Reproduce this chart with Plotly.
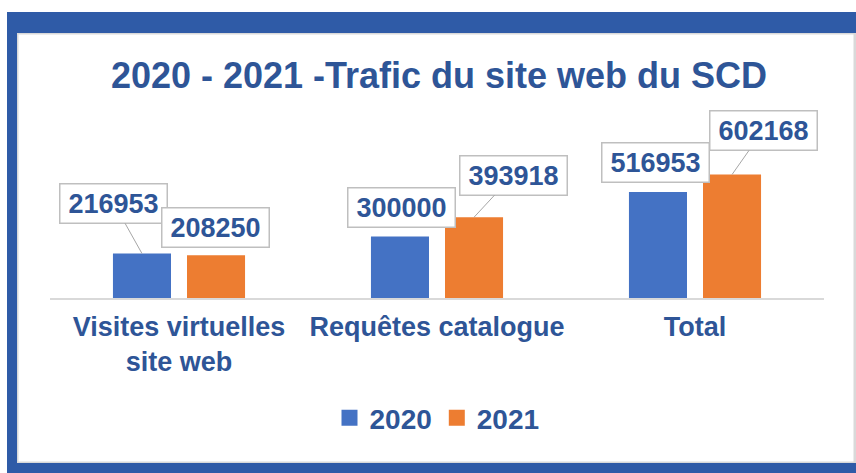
import plotly.graph_objects as go

# ---- data ----
categories = ["Visites virtuelles<br>site web", "Requêtes catalogue", "Total"]
values_2020 = [216953, 300000, 516953]
values_2021 = [208250, 393918, 602168]
series_names = ["2020", "2021"]

# ---- styling / layout config ----
W, H = 856, 473
L, R, T, B = 50, 824, 134, 298          # plot area in pixels
Y_MAX = 800000
BARGAP = 0.426
BARGROUPGAP = 0.216
C_BLUE = "#4472C4"
C_ORANGE = "#ED7D31"
C_TEXT = "#2E5597"
C_FRAME = "#2F5BA7"
FONT = "Liberation Sans, Arial, sans-serif"

# label box offsets (pixels, box centre relative to bar top) and leader visibility
label_offsets_2020 = [(-28, -50, True), (2, -29, False), (-2, -30, False)]
label_offsets_2021 = [(-1, -28, False), (39, -42, True), (31, -44, True)]


def px2x(px):
    return (px - L) / (R - L)


def py2y(py):
    return (B - py) / (B - T)


fig = go.Figure()
fig.add_trace(go.Bar(x=categories, y=values_2020, name=series_names[0],
                     marker=dict(color=C_BLUE, line=dict(width=0)), showlegend=False))
fig.add_trace(go.Bar(x=categories, y=values_2021, name=series_names[1],
                     marker=dict(color=C_ORANGE, line=dict(width=0)), showlegend=False))

# legend entries with larger square symbols
for name, col in zip(series_names, [C_BLUE, C_ORANGE]):
    fig.add_trace(go.Scatter(x=[None], y=[None], mode="markers", name=name,
                             marker=dict(symbol="square", size=16, color=col)))

# data labels with leader lines
slot_half = (1 - BARGAP) / 4
annotations = []
for vals, offs, sign in [(values_2020, label_offsets_2020, -1), (values_2021, label_offsets_2021, 1)]:
    for i, (v, (ax, ay, lead)) in enumerate(zip(vals, offs)):
        annotations.append(dict(
            x=i + sign * slot_half, y=v, xref="x", yref="y",
            text=f"{v}", showarrow=True, arrowhead=0, arrowwidth=1,
            arrowcolor="#A6A6A6" if lead else "rgba(0,0,0,0)",
            ax=ax, ay=ay,
            font=dict(family=FONT, size=27, color=C_TEXT, weight="bold"),
            bgcolor="white", bordercolor="#BFBFBF", borderwidth=1.5, borderpad=3,
            width=100, height=32,
        ))


def prect(x0, y0, x1, y1, **kw):
    return dict(type="rect", xref="paper", yref="paper",
                x0=px2x(x0), x1=px2x(x1), y0=py2y(y0), y1=py2y(y1),
                layer="below", **kw)


shapes = [
    # soft inner shadow line of the frame
    prect(17, 33, 855, 463, fillcolor="rgba(0,0,0,0)", line=dict(color="#D9D9D9", width=3)),
    # blue frame bands (top, left, bottom)
    prect(7, 12, 900, 33, fillcolor=C_FRAME, line=dict(width=0)),
    prect(7, 12, 17, 490, fillcolor=C_FRAME, line=dict(width=0)),
    prect(7, 463, 900, 490, fillcolor=C_FRAME, line=dict(width=0)),
]

fig.update_layout(
    width=W, height=H,
    margin=dict(l=L, r=W - R, t=T, b=H - B, pad=0),
    paper_bgcolor="white", plot_bgcolor="rgba(0,0,0,0)",
    barmode="group", bargap=BARGAP, bargroupgap=BARGROUPGAP,
    title=dict(text="2020 - 2021 -Trafic du site web du SCD",
               font=dict(family=FONT, size=36, color=C_TEXT, weight="bold"),
               xref="paper", x=px2x(439), xanchor="center",
               yref="container", y=1 - 75 / H, yanchor="middle"),
    xaxis=dict(type="category", showline=True, linecolor="#D9D9D9", linewidth=1.5,
               ticks="", showgrid=False, zeroline=False, ticklabelstandoff=4,
               tickfont=dict(family=FONT, size=27, color=C_TEXT, weight="bold")),
    yaxis=dict(range=[0, Y_MAX], visible=False, showgrid=False, zeroline=False),
    legend=dict(orientation="h", x=px2x(437), xanchor="center",
                y=py2y(418), yanchor="middle",
                font=dict(family=FONT, size=28, color=C_TEXT, weight="bold"),
                bgcolor="rgba(0,0,0,0)"),
    annotations=annotations,
    shapes=shapes,
    showlegend=True,
)

fig.write_html(
    "out.html",
    config={"displayModeBar": False},
    post_script="document.body.style.margin='0';document.body.style.overflow='hidden';",
)
